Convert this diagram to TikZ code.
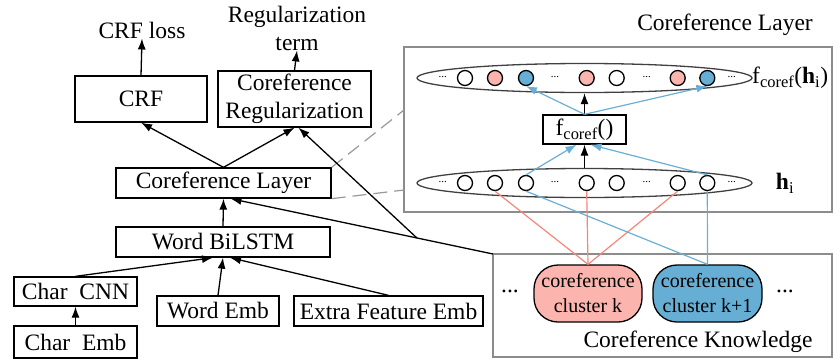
\documentclass[tikz,border=0pt]{standalone}
\usepackage{fontspec}
\setmainfont{Liberation Serif}
\usetikzlibrary{arrows.meta,shapes.geometric}
\definecolor{pinkfill}{HTML}{FBB4AE}
\definecolor{pinkline}{HTML}{F4877A}
\definecolor{bluefill}{HTML}{67AED5}
\definecolor{blueline}{HTML}{6AAED6}
\definecolor{panelgray}{HTML}{8C8C8C}
\definecolor{dashgray}{HTML}{999999}
\begin{document}
\begin{tikzpicture}[x=1pt,y=-1pt,
  txt/.style={font=\fontsize{23.5}{28}\selectfont, inner sep=0pt, align=center},
  box/.style={txt, draw, line width=1.3pt},
  arr/.style={-{Latex[length=11pt,width=8pt]}, line width=1.3pt},
  barr/.style={draw=blueline, line width=1.2pt, -{Latex[length=11pt,width=8pt,fill=blueline]}},
  pline/.style={draw=pinkline, line width=1.2pt},
  bline/.style={draw=blueline, line width=1.2pt},
  circ/.style={circle, draw, line width=1.3pt, minimum size=15pt, inner sep=0pt},
  ell/.style={ellipse, draw=black!75, line width=1.3pt, minimum width=335pt, minimum height=29pt, inner sep=0pt},
  panel/.style={draw=panelgray, line width=1.3pt},
  dots/.style={font=\fontsize{11}{11}\selectfont, inner sep=0pt},
  cluster/.style={draw, line width=1.3pt, rounded corners=24pt, font=\fontsize{20}{25}\selectfont, align=center, inner sep=0pt, minimum height=57pt},
  dashedgray/.style={draw=dashgray, line width=1.2pt, dash pattern=on 14pt off 7pt}
]
\useasboundingbox (0,0) rectangle (840,362);

% ---- left column ----
\node[txt] (crfloss) at (142,30) {CRF loss};
\node[txt] (regterm) at (297,28) {Regularization\\term};
\node[box, minimum width=132pt, minimum height=46pt] (crf) at (141,99) {CRF};
\node[box, minimum width=153pt, minimum height=56pt] (coreg) at (294.5,99) {Coreference\\Regularization};
\node[box, minimum width=215pt, minimum height=30pt] (corelayer) at (223.5,183) {Coreference Layer};
\node[box, minimum width=214pt, minimum height=30pt] (bilstm) at (223,242) {Word BiLSTM};
\node[box, minimum width=123pt, minimum height=29pt] (charcnn) at (75.5,291.5) {Char~~CNN};
\node[box, minimum width=123pt, minimum height=32pt] (charemb) at (75.5,342) {Char~~Emb};
\node[box, minimum width=122pt, minimum height=30pt] (wordemb) at (218,311) {Word Emb};
\node[box, minimum width=189pt, minimum height=30pt] (extra) at (388.5,311) {Extra Feature Emb};

% ---- right panel: coreference layer ----
\draw[panel] (404,47) rectangle (832,212);
\coordinate (rpleftA) at (404,110);
\coordinate (rpleftB) at (404,190);
\node[txt] (rptitle) at (725,25) {Coreference Layer};
\node[ell] (etop) at (584.5,78) {};
\node[ell] (ebot) at (584.5,183) {};
\foreach \x/\n/\c in {465/1/white, 495/2/pinkfill, 526/3/bluefill, 586.7/4/pinkfill, 616.7/5/white, 677.7/6/pinkfill, 707.3/7/bluefill}{
  \node[circ, fill=\c] (t\n) at (\x,78) {};
  \node[circ, fill=white] (b\n) at (\x,183) {};
}
\foreach \x/\n in {442.7/1, 555/2, 646.7/3, 731.7/4}{
  \node[dots] (td\n) at (\x,77) {...};
  \node[dots] (bd\n) at (\x,182) {...};
}
\node[box, minimum width=83pt, minimum height=29pt] (fbox) at (584.5,129.5) {f\textsubscript{coref}()};
\node[txt, anchor=west] (flabel) at (752,78) {f\textsubscript{coref}(\textbf{h}\textsubscript{i})};
\node[txt] (hlabel) at (785,183) {\textbf{h}\textsubscript{i}};

\draw[arr] (ebot.north) -- (fbox.south);
\draw[arr] (fbox.north) -- (etop.south);
\draw[barr] (fbox.north) -- (t3.south);
\draw[barr] (fbox.north) -- (t7.south);
\draw[barr] (b3.north) -- ([xshift=-8pt]fbox.south);
\draw[barr] (b7.north) -- ([xshift=6pt]fbox.south);

% ---- knowledge panel ----
\draw[panel] (493,254) rectangle (832,357);
\coordinate (knw) at (493,254);
\node[txt] (kbtitle) at (698,342) {Coreference Knowledge};
\node[cluster, fill=pinkfill, minimum width=108pt] (ck) at (588,293.5) {coreference\\cluster k};
\node[cluster, fill=bluefill, minimum width=109pt] (ck1) at (707.5,293.5) {coreference\\cluster k+1};
\node[txt] (kd1) at (510,291) {...};
\node[txt] (kd2) at (785,291) {...};

\draw[pline] (ck.north) -- (b2.south);
\draw[pline] (ck.north) -- (b4.south);
\draw[pline] (ck.north) -- (b6.south);
\draw[bline] (ck1.north) -- (b7.south);
\draw[bline] (ck1.north) -- (b3.south);

% ---- dashed zoom lines ----
\draw[dashedgray] (corelayer.north east) -- (rpleftA);
\draw[dashedgray] (corelayer.south east) -- (rpleftB);

% ---- black connectors ----
\draw[arr] (crf.north) -- (crfloss.south);
\draw[arr] (coreg.north) -- (regterm.south);
\draw[arr] (corelayer.north) -- (crf.south);
\draw[arr] (corelayer.north) -- (coreg.south);
\draw[arr] (knw) -- coordinate[pos=0.29] (branch) ([xshift=7pt]corelayer.south);
\draw[arr] (branch) -- ([xshift=4pt]coreg.south);
\draw[arr] (bilstm.north) -- (corelayer.south);
\draw[arr] (charcnn.north) -- ([xshift=-10pt]bilstm.south);
\draw[arr] (wordemb.north) -- (bilstm.south);
\draw[arr] (extra.north) -- ([xshift=7pt]bilstm.south);
\draw[arr] (charemb.north) -- (charcnn.south);
\end{tikzpicture}
\end{document}
